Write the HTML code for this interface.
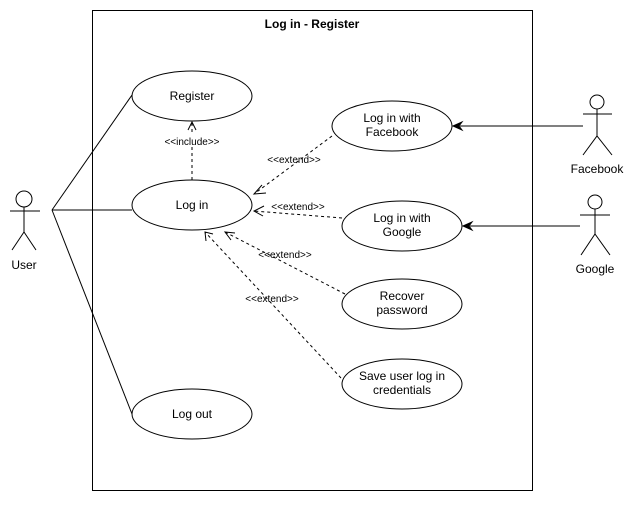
<!DOCTYPE html>
<html><head><style>body{margin:0;background:#fff}</style></head><body>
<svg width="634" height="501" xmlns="http://www.w3.org/2000/svg" font-family="Liberation Sans, Arial, sans-serif">
<rect width="634" height="501" fill="#fff"/>
<rect x="92.5" y="10.5" width="440" height="480" fill="none" stroke="#000"/>
<text x="312" y="28" font-size="12" font-weight="bold" text-anchor="middle">Log in - Register</text>
<g fill="#fff" stroke="#000">
<ellipse cx="192" cy="96" rx="60" ry="25"/>
<ellipse cx="192" cy="205" rx="60" ry="25"/>
<ellipse cx="192" cy="414" rx="60" ry="25"/>
<ellipse cx="392" cy="126" rx="60" ry="25"/>
<ellipse cx="402" cy="226" rx="60" ry="25"/>
<ellipse cx="402" cy="304" rx="60" ry="25"/>
<ellipse cx="402" cy="384" rx="60" ry="25"/>
</g>
<g font-size="12" text-anchor="middle">
<text x="192" y="100">Register</text>
<text x="192" y="209">Log in</text>
<text x="192" y="418">Log out</text>
<text x="392" y="122">Log in with</text><text x="392" y="136">Facebook</text>
<text x="402" y="222">Log in with</text><text x="402" y="236">Google</text>
<text x="402" y="300">Recover</text><text x="402" y="314">password</text>
<text x="402" y="380">Save user log in</text><text x="402" y="394">credentials</text>
<text x="24" y="269">User</text>
<text x="597" y="173">Facebook</text>
<text x="595" y="273">Google</text>
</g>
<g stroke="#000" fill="none">
<circle cx="24" cy="199" r="8"/>
<line x1="24" y1="207" x2="24" y2="232"/><line x1="10" y1="211" x2="40" y2="211"/>
<polyline points="12,250 24,232 36,250"/>
<line x1="52" y1="210" x2="132" y2="95"/>
<line x1="52" y1="210" x2="132" y2="210"/>
<line x1="52" y1="210" x2="132" y2="414"/>
<circle cx="597" cy="102" r="7"/>
<line x1="597" y1="109" x2="597" y2="136"/><line x1="583" y1="114" x2="612" y2="114"/>
<polyline points="583,155 597,136 612,155"/>
<line x1="583" y1="126" x2="460" y2="126"/>
<circle cx="595" cy="202" r="7"/>
<line x1="595" y1="209" x2="595" y2="234"/><line x1="580" y1="215" x2="610" y2="215"/>
<polyline points="581,255 595,234 610,255"/>
<line x1="580" y1="226" x2="470" y2="226"/>
</g>
<polygon points="453,126 462,122 459,126 462,130" fill="#000" stroke="#000"/>
<polygon points="463,226 472,222 469,226 472,230" fill="#000" stroke="#000"/>
<g stroke="#000" fill="none" stroke-dasharray="3,3">
<line x1="192" y1="180" x2="192" y2="122"/>
<line x1="332" y1="136" x2="254" y2="194"/>
<line x1="342" y1="218" x2="254" y2="211"/>
<line x1="345" y1="294" x2="225" y2="232"/>
<line x1="341" y1="378" x2="205" y2="232"/>
</g>
<g stroke="#000" fill="none">
<polyline points="188,130 192,122 196,130"/>
<polyline points="262,185 254,194 266,193"/>
<polyline points="264,206 254,211 263,216"/>
<polyline points="235,233 225,232 231,240"/>
<polyline points="213,234 205,232 206,241"/>
</g>
<g font-size="10" text-anchor="middle">
<rect x="162" y="135" width="60" height="12" fill="#fff"/>
<text x="192" y="145">&lt;&lt;include&gt;&gt;</text>
<text x="294" y="163">&lt;&lt;extend&gt;&gt;</text>
<text x="298" y="210">&lt;&lt;extend&gt;&gt;</text>
<text x="285" y="258">&lt;&lt;extend&gt;&gt;</text>
<text x="272" y="302">&lt;&lt;extend&gt;&gt;</text>
</g>
</svg>
</body></html>
